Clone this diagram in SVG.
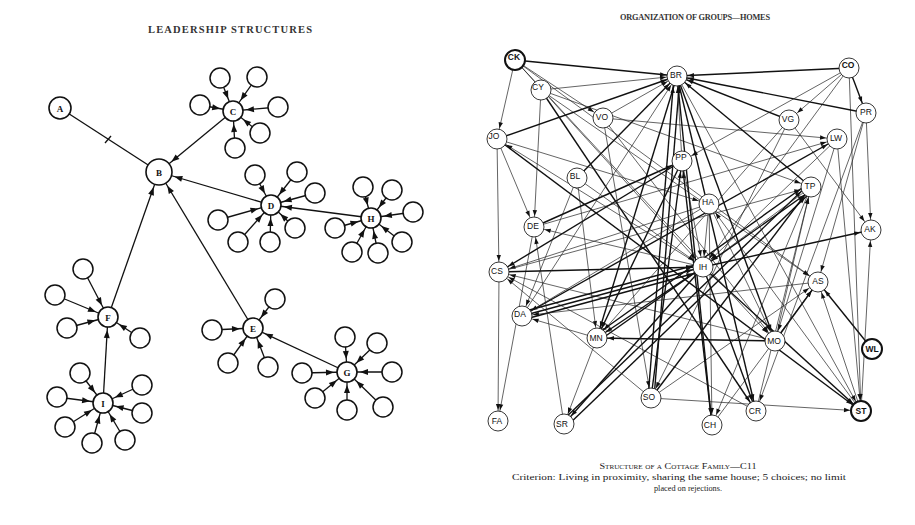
<svg xmlns="http://www.w3.org/2000/svg" width="915" height="525" viewBox="0 0 915 525">
<defs>
<style>
.ttl{font-family:"Liberation Serif",serif;font-weight:bold;fill:#333}
.cap{font-family:"Liberation Serif",serif;fill:#222;font-size:8.5px}
.ll{font-family:"Liberation Serif",serif;font-weight:bold;font-size:9px;fill:#111;text-anchor:middle}
.rl{font-family:"Liberation Sans",sans-serif;font-size:8.5px;fill:#111;text-anchor:middle}
.sat{fill:#fff;stroke:#111;stroke-width:1.5}
.cen{fill:#fff;stroke:#111;stroke-width:1.6}
.rn{fill:#fff;stroke:#222;stroke-width:0.9}
.rb{fill:#fff;stroke:#111;stroke-width:2}
.le{stroke:#111;stroke-width:1.3;fill:none}
.n{stroke:#222;stroke-width:0.7}
.t{stroke:#111;stroke-width:1.4}
</style>
<marker id="arr" viewBox="0 0 8 6" refX="21" refY="3" markerWidth="8" markerHeight="6" markerUnits="userSpaceOnUse" orient="auto" overflow="visible"><path d="M0,0 L8,3 L0,6 z" fill="#111"/></marker>
<marker id="arrB" viewBox="0 0 8 6" refX="24" refY="3" markerWidth="8" markerHeight="6" markerUnits="userSpaceOnUse" orient="auto" overflow="visible"><path d="M0,0 L8,3 L0,6 z" fill="#111"/></marker>
<marker id="ar" viewBox="0 0 6 4.4" refX="17" refY="2.2" markerWidth="6" markerHeight="4.4" markerUnits="userSpaceOnUse" orient="auto" overflow="visible"><path d="M0,0 L6,2.2 L0,4.4 z" fill="#111"/></marker>
</defs>
<rect width="915" height="525" fill="#fff"/>
<text class="ttl" x="230" y="33" font-size="10.5" text-anchor="middle" textLength="164" lengthAdjust="spacing">LEADERSHIP STRUCTURES</text>
<text class="ttl" x="695" y="20" font-size="8.3" text-anchor="middle" textLength="150" lengthAdjust="spacing">ORGANIZATION OF GROUPS—HOMES</text>

<g id="left-connectors">
<line class="le" x1="60" y1="108" x2="159" y2="172"/>
<line class="le" x1="105" y1="143" x2="111" y2="136"/>
<line class="le" x1="233" y1="111" x2="159" y2="172" marker-end="url(#arrB)"/>
<line class="le" x1="271" y1="205" x2="159" y2="172" marker-end="url(#arrB)"/>
<line class="le" x1="108" y1="317" x2="159" y2="172" marker-end="url(#arrB)"/>
<line class="le" x1="253" y1="328" x2="159" y2="172" marker-end="url(#arrB)"/>
<line class="le" x1="371" y1="218" x2="271" y2="205" marker-end="url(#arr)"/>
<line class="le" x1="103" y1="403" x2="108" y2="317" marker-end="url(#arr)"/>
<line class="le" x1="347" y1="372" x2="253" y2="328" marker-end="url(#arr)"/>
<line class="le" x1="220" y1="78" x2="233" y2="111" marker-end="url(#arr)"/>
<line class="le" x1="257" y1="77" x2="233" y2="111" marker-end="url(#arr)"/>
<line class="le" x1="200" y1="105" x2="233" y2="111" marker-end="url(#arr)"/>
<line class="le" x1="278" y1="107" x2="233" y2="111" marker-end="url(#arr)"/>
<line class="le" x1="260" y1="133" x2="233" y2="111" marker-end="url(#arr)"/>
<line class="le" x1="235" y1="148" x2="233" y2="111" marker-end="url(#arr)"/>
<line class="le" x1="255" y1="175" x2="271" y2="205" marker-end="url(#arr)"/>
<line class="le" x1="297" y1="172" x2="271" y2="205" marker-end="url(#arr)"/>
<line class="le" x1="315" y1="193" x2="271" y2="205" marker-end="url(#arr)"/>
<line class="le" x1="218" y1="220" x2="271" y2="205" marker-end="url(#arr)"/>
<line class="le" x1="238" y1="242" x2="271" y2="205" marker-end="url(#arr)"/>
<line class="le" x1="270" y1="242" x2="271" y2="205" marker-end="url(#arr)"/>
<line class="le" x1="295" y1="228" x2="271" y2="205" marker-end="url(#arr)"/>
<line class="le" x1="363" y1="187" x2="371" y2="218" marker-end="url(#arr)"/>
<line class="le" x1="392" y1="190" x2="371" y2="218" marker-end="url(#arr)"/>
<line class="le" x1="413" y1="212" x2="371" y2="218" marker-end="url(#arr)"/>
<line class="le" x1="335" y1="228" x2="371" y2="218" marker-end="url(#arr)"/>
<line class="le" x1="352" y1="252" x2="371" y2="218" marker-end="url(#arr)"/>
<line class="le" x1="378" y1="253" x2="371" y2="218" marker-end="url(#arr)"/>
<line class="le" x1="402" y1="242" x2="371" y2="218" marker-end="url(#arr)"/>
<line class="le" x1="83" y1="269" x2="108" y2="317" marker-end="url(#arr)"/>
<line class="le" x1="55" y1="295" x2="108" y2="317" marker-end="url(#arr)"/>
<line class="le" x1="67" y1="328" x2="108" y2="317" marker-end="url(#arr)"/>
<line class="le" x1="140" y1="338" x2="108" y2="317" marker-end="url(#arr)"/>
<line class="le" x1="80" y1="373" x2="103" y2="403" marker-end="url(#arr)"/>
<line class="le" x1="57" y1="397" x2="103" y2="403" marker-end="url(#arr)"/>
<line class="le" x1="65" y1="427" x2="103" y2="403" marker-end="url(#arr)"/>
<line class="le" x1="92" y1="443" x2="103" y2="403" marker-end="url(#arr)"/>
<line class="le" x1="125" y1="440" x2="103" y2="403" marker-end="url(#arr)"/>
<line class="le" x1="142" y1="413" x2="103" y2="403" marker-end="url(#arr)"/>
<line class="le" x1="142" y1="385" x2="103" y2="403" marker-end="url(#arr)"/>
<line class="le" x1="212" y1="330" x2="253" y2="328" marker-end="url(#arr)"/>
<line class="le" x1="228" y1="363" x2="253" y2="328" marker-end="url(#arr)"/>
<line class="le" x1="268" y1="367" x2="253" y2="328" marker-end="url(#arr)"/>
<line class="le" x1="275" y1="299" x2="253" y2="328" marker-end="url(#arr)"/>
<line class="le" x1="345" y1="337" x2="347" y2="372" marker-end="url(#arr)"/>
<line class="le" x1="377" y1="343" x2="347" y2="372" marker-end="url(#arr)"/>
<line class="le" x1="392" y1="372" x2="347" y2="372" marker-end="url(#arr)"/>
<line class="le" x1="302" y1="373" x2="347" y2="372" marker-end="url(#arr)"/>
<line class="le" x1="315" y1="398" x2="347" y2="372" marker-end="url(#arr)"/>
<line class="le" x1="347" y1="410" x2="347" y2="372" marker-end="url(#arr)"/>
<line class="le" x1="383" y1="407" x2="347" y2="372" marker-end="url(#arr)"/>
</g>

<g id="left-satellites">
<circle class="sat" cx="220" cy="78" r="10"/><circle class="sat" cx="257" cy="77" r="10"/><circle class="sat" cx="200" cy="105" r="10"/><circle class="sat" cx="278" cy="107" r="10"/><circle class="sat" cx="260" cy="133" r="10"/><circle class="sat" cx="235" cy="148" r="10"/>
<circle class="sat" cx="255" cy="175" r="10"/><circle class="sat" cx="297" cy="172" r="10"/><circle class="sat" cx="315" cy="193" r="10" stroke-width="2.2"/><circle class="sat" cx="218" cy="220" r="10"/><circle class="sat" cx="238" cy="242" r="10"/><circle class="sat" cx="270" cy="242" r="10"/><circle class="sat" cx="295" cy="228" r="10" stroke-width="2.4"/>
<circle class="sat" cx="363" cy="187" r="10" stroke-width="2.2"/><circle class="sat" cx="392" cy="190" r="10"/><circle class="sat" cx="413" cy="212" r="10"/><circle class="sat" cx="335" cy="228" r="10"/><circle class="sat" cx="352" cy="252" r="10"/><circle class="sat" cx="378" cy="253" r="10"/><circle class="sat" cx="402" cy="242" r="10"/>
<circle class="sat" cx="83" cy="269" r="10"/><circle class="sat" cx="55" cy="295" r="10"/><circle class="sat" cx="67" cy="328" r="10"/><circle class="sat" cx="140" cy="338" r="10"/>
<circle class="sat" cx="80" cy="373" r="10" stroke-width="2"/><circle class="sat" cx="57" cy="397" r="10"/><circle class="sat" cx="65" cy="427" r="10"/><circle class="sat" cx="92" cy="443" r="10"/><circle class="sat" cx="125" cy="440" r="10"/><circle class="sat" cx="142" cy="413" r="10"/><circle class="sat" cx="142" cy="385" r="10"/>
<circle class="sat" cx="212" cy="330" r="10"/><circle class="sat" cx="228" cy="363" r="10"/><circle class="sat" cx="268" cy="367" r="10"/><circle class="sat" cx="275" cy="299" r="10"/>
<circle class="sat" cx="345" cy="337" r="10"/><circle class="sat" cx="377" cy="343" r="10" stroke-width="2"/><circle class="sat" cx="392" cy="372" r="10"/><circle class="sat" cx="302" cy="373" r="10"/><circle class="sat" cx="315" cy="398" r="10"/><circle class="sat" cx="347" cy="410" r="10" stroke-width="2"/><circle class="sat" cx="383" cy="407" r="10" stroke-width="2"/>
</g>
<g id="node-A"><circle class="cen" cx="60" cy="108" r="11" stroke-width="3.5"/><text class="ll" x="60" y="111.5">A</text></g>
<g id="node-B"><circle class="cen" cx="159" cy="172" r="13" stroke-width="2.2"/><text class="ll" x="159" y="175.5">B</text></g>
<g id="node-C"><circle class="cen" cx="233" cy="111" r="10"/><text class="ll" x="233" y="114.5">C</text></g>
<g id="node-D"><circle class="cen" cx="271" cy="205" r="10"/><text class="ll" x="271" y="208.5">D</text></g>
<g id="node-H"><circle class="cen" cx="371" cy="218" r="10"/><text class="ll" x="371" y="221.5">H</text></g>
<g id="node-F"><circle class="cen" cx="108" cy="317" r="10"/><text class="ll" x="108" y="320.5">F</text></g>
<g id="node-I"><circle class="cen" cx="103" cy="403" r="10"/><text class="ll" x="103" y="406.5">I</text></g>
<g id="node-E"><circle class="cen" cx="253" cy="328" r="10"/><text class="ll" x="253" y="331.5">E</text></g>
<g id="node-G"><circle class="cen" cx="347" cy="372" r="10"/><text class="ll" x="347" y="375.5">G</text></g>

<g id="right-connectors">
<line class="t" x1="515" y1="60" x2="677" y2="76" marker-end="url(#ar)"/>
<line class="n" x1="515" y1="60" x2="497" y2="139" marker-end="url(#ar)"/>
<line class="n" x1="515" y1="60" x2="603" y2="118" marker-end="url(#ar)"/>
<line class="n" x1="515" y1="60" x2="703" y2="267" marker-end="url(#ar)"/>
<line class="n" x1="515" y1="60" x2="818" y2="282" marker-end="url(#ar)"/>
<line class="n" x1="541" y1="90" x2="677" y2="76" marker-end="url(#ar)"/>
<line class="n" x1="541" y1="90" x2="534" y2="227" marker-end="url(#ar)"/>
<line class="t" x1="541" y1="90" x2="756" y2="411" marker-end="url(#ar)"/>
<line class="n" x1="541" y1="90" x2="811" y2="187" marker-end="url(#ar)"/>
<line class="n" x1="541" y1="90" x2="818" y2="282" marker-end="url(#ar)"/>
<line class="n" x1="603" y1="118" x2="837" y2="139" marker-end="url(#ar)"/>
<line class="n" x1="603" y1="118" x2="677" y2="76" marker-end="url(#ar)"/>
<line class="n" x1="603" y1="118" x2="775" y2="341" marker-end="url(#ar)"/>
<line class="t" x1="497" y1="139" x2="677" y2="76" marker-end="url(#ar)"/>
<line class="n" x1="497" y1="139" x2="534" y2="227" marker-end="url(#ar)"/>
<line class="n" x1="497" y1="139" x2="499" y2="272" marker-end="url(#ar)"/>
<line class="t" x1="497" y1="139" x2="861" y2="411" marker-end="url(#ar)"/>
<line class="n" x1="703" y1="267" x2="497" y2="139" marker-end="url(#ar)"/>
<line class="t" x1="577" y1="178" x2="677" y2="76" marker-end="url(#ar)"/>
<line class="n" x1="577" y1="178" x2="522" y2="316" marker-end="url(#ar)"/>
<line class="n" x1="577" y1="178" x2="597" y2="338" marker-end="url(#ar)"/>
<line class="t" x1="534" y1="227" x2="682" y2="161" marker-end="url(#ar)"/>
<line class="n" x1="534" y1="227" x2="837" y2="139" marker-end="url(#ar)"/>
<line class="n" x1="534" y1="227" x2="498" y2="421" marker-end="url(#ar)"/>
<line class="t" x1="499" y1="272" x2="703" y2="267" marker-end="url(#ar)"/>
<line class="t" x1="682" y1="161" x2="499" y2="272" marker-end="url(#ar)"/>
<line class="n" x1="499" y1="272" x2="498" y2="421" marker-end="url(#ar)"/>
<line class="n" x1="756" y1="411" x2="499" y2="272" marker-end="url(#ar)"/>
<line class="n" x1="775" y1="341" x2="499" y2="272" marker-end="url(#ar)"/>
<line class="t" x1="522" y1="312" x2="703" y2="263" marker-end="url(#ar)"/>
<line class="t" x1="522" y1="316" x2="703" y2="267" marker-end="url(#ar)"/>
<line class="t" x1="522" y1="320" x2="703" y2="271" marker-end="url(#ar)"/>
<line class="t" x1="522" y1="316" x2="837" y2="139" marker-end="url(#ar)"/>
<line class="n" x1="597" y1="338" x2="522" y2="316" marker-end="url(#ar)"/>
<line class="t" x1="677" y1="76" x2="597" y2="338" marker-end="url(#ar)"/>
<line class="t" x1="682" y1="161" x2="597" y2="338" marker-end="url(#ar)"/>
<line class="t" x1="775" y1="341" x2="597" y2="338" marker-end="url(#ar)"/>
<line class="n" x1="597" y1="338" x2="564" y2="424" marker-end="url(#ar)"/>
<line class="t" x1="648" y1="398" x2="674" y2="76" marker-end="url(#ar)"/>
<line class="t" x1="654" y1="398" x2="680" y2="76" marker-end="url(#ar)"/>
<line class="t" x1="651" y1="398" x2="811" y2="187" marker-end="url(#ar)"/>
<line class="n" x1="651" y1="398" x2="818" y2="282" marker-end="url(#ar)"/>
<line class="n" x1="651" y1="398" x2="861" y2="411" marker-end="url(#ar)"/>
<line class="t" x1="651" y1="398" x2="682" y2="161" marker-end="url(#ar)"/>
<line class="t" x1="562" y1="421" x2="809" y2="184" marker-end="url(#ar)"/>
<line class="t" x1="566" y1="427" x2="813" y2="190" marker-end="url(#ar)"/>
<line class="n" x1="709" y1="204" x2="712" y2="425" marker-end="url(#ar)"/>
<line class="n" x1="712" y1="425" x2="818" y2="282" marker-end="url(#ar)"/>
<line class="t" x1="712" y1="425" x2="682" y2="161" marker-end="url(#ar)"/>
<line class="t" x1="703" y1="267" x2="756" y2="411" marker-end="url(#ar)"/>
<line class="n" x1="861" y1="411" x2="818" y2="282" marker-end="url(#ar)"/>
<line class="t" x1="872" y1="349" x2="818" y2="282" marker-end="url(#ar)"/>
<line class="n" x1="861" y1="411" x2="871" y2="230" marker-end="url(#ar)"/>
<line class="n" x1="849" y1="68" x2="861" y2="411" marker-end="url(#ar)"/>
<line class="t" x1="703" y1="267" x2="861" y2="411" marker-end="url(#ar)"/>
<line class="n" x1="866" y1="113" x2="871" y2="230" marker-end="url(#ar)"/>
<line class="t" x1="703" y1="267" x2="871" y2="230" marker-end="url(#ar)"/>
<line class="n" x1="789" y1="120" x2="871" y2="230" marker-end="url(#ar)"/>
<line class="t" x1="775" y1="341" x2="818" y2="282" marker-end="url(#ar)"/>
<line class="t" x1="677" y1="76" x2="775" y2="341" marker-end="url(#ar)"/>
<line class="t" x1="849" y1="68" x2="677" y2="76" marker-end="url(#ar)"/>
<line class="t" x1="866" y1="113" x2="677" y2="76" marker-end="url(#ar)"/>
<line class="n" x1="849" y1="68" x2="789" y2="120" marker-end="url(#ar)"/>
<line class="t" x1="849" y1="68" x2="866" y2="113" marker-end="url(#ar)"/>
<line class="n" x1="849" y1="68" x2="682" y2="161" marker-end="url(#ar)"/>
<line class="n" x1="866" y1="113" x2="818" y2="282" marker-end="url(#ar)"/>
<line class="t" x1="789" y1="120" x2="677" y2="76" marker-end="url(#ar)"/>
<line class="n" x1="789" y1="120" x2="651" y2="398" marker-end="url(#ar)"/>
<line class="n" x1="789" y1="120" x2="597" y2="338" marker-end="url(#ar)"/>
<line class="n" x1="837" y1="139" x2="703" y2="267" marker-end="url(#ar)"/>
<line class="n" x1="837" y1="139" x2="775" y2="341" marker-end="url(#ar)"/>
<line class="n" x1="837" y1="139" x2="861" y2="411" marker-end="url(#ar)"/>
<line class="t" x1="811" y1="187" x2="677" y2="76" marker-end="url(#ar)"/>
<line class="t" x1="597" y1="334" x2="809" y2="183" marker-end="url(#ar)"/>
<line class="t" x1="600" y1="340" x2="813" y2="189" marker-end="url(#ar)"/>
<line class="n" x1="709" y1="204" x2="522" y2="316" marker-end="url(#ar)"/>
<line class="n" x1="709" y1="204" x2="703" y2="267" marker-end="url(#ar)"/>
<line class="n" x1="709" y1="204" x2="499" y2="272" marker-end="url(#ar)"/>
<line class="n" x1="682" y1="161" x2="677" y2="76" marker-end="url(#ar)"/>
<line class="n" x1="682" y1="161" x2="703" y2="267" marker-end="url(#ar)"/>
<line class="t" x1="677" y1="76" x2="756" y2="411" marker-end="url(#ar)"/>
<line class="n" x1="677" y1="76" x2="861" y2="411" marker-end="url(#ar)"/>
<line class="t" x1="677" y1="76" x2="712" y2="425" marker-end="url(#ar)"/>
<line class="t" x1="703" y1="267" x2="564" y2="424" marker-end="url(#ar)"/>
<line class="t" x1="703" y1="267" x2="597" y2="338" marker-end="url(#ar)"/>
<line class="n" x1="703" y1="267" x2="534" y2="227" marker-end="url(#ar)"/>
<line class="n" x1="811" y1="187" x2="712" y2="425" marker-end="url(#ar)"/>
<line class="n" x1="811" y1="187" x2="703" y2="267" marker-end="url(#ar)"/>
<line class="n" x1="818" y1="282" x2="522" y2="316" marker-end="url(#ar)"/>
<line class="n" x1="499" y1="272" x2="811" y2="187" marker-end="url(#ar)"/>
<line class="n" x1="564" y1="424" x2="534" y2="227" marker-end="url(#ar)"/>
<line class="n" x1="651" y1="398" x2="499" y2="272" marker-end="url(#ar)"/>
<line class="n" x1="756" y1="411" x2="811" y2="187" marker-end="url(#ar)"/>
<line class="n" x1="577" y1="178" x2="703" y2="267" marker-end="url(#ar)"/>
<line class="n" x1="603" y1="118" x2="651" y2="398" marker-end="url(#ar)"/>
<line class="n" x1="709" y1="204" x2="775" y2="341" marker-end="url(#ar)"/>
<line class="n" x1="522" y1="316" x2="677" y2="76" marker-end="url(#ar)"/>
<line class="n" x1="497" y1="139" x2="709" y2="204" marker-end="url(#ar)"/>
<line class="n" x1="515" y1="60" x2="775" y2="341" marker-end="url(#ar)"/>
<line class="n" x1="775" y1="341" x2="811" y2="187" marker-end="url(#ar)"/>
<line class="n" x1="861" y1="411" x2="709" y2="204" marker-end="url(#ar)"/>
<line class="n" x1="866" y1="113" x2="756" y2="411" marker-end="url(#ar)"/>
<line class="n" x1="849" y1="68" x2="703" y2="267" marker-end="url(#ar)"/>
</g>

<g id="node-CK"><circle class="rb" cx="515" cy="60" r="10"/><text class="rl" x="514" y="60" font-weight="bold">CK</text></g>
<g id="node-CY"><circle class="rn" cx="541" cy="90" r="10"/><text class="rl" x="538" y="90">CY</text></g>
<g id="node-BR"><circle class="rn" cx="677" cy="76" r="10"/><text class="rl" x="676" y="78">BR</text></g>
<g id="node-CO"><circle class="rn" cx="849" cy="68" r="10" stroke-width="1.4"/><text class="rl" x="848" y="68" font-weight="bold">CO</text></g>
<g id="node-PR"><circle class="rn" cx="866" cy="113" r="10"/><text class="rl" x="866" y="115">PR</text></g>
<g id="node-VG"><circle class="rn" cx="789" cy="120" r="10"/><text class="rl" x="788" y="122">VG</text></g>
<g id="node-VO"><circle class="rn" cx="603" cy="118" r="10"/><text class="rl" x="602" y="120" font-size="6.5">VO</text></g>
<g id="node-LW"><circle class="rn" cx="837" cy="139" r="10"/><text class="rl" x="836" y="141">LW</text></g>
<g id="node-JO"><circle class="rn" cx="497" cy="139" r="10"/><text class="rl" x="494" y="139">JO</text></g>
<g id="node-PP"><circle class="rn" cx="682" cy="161" r="10"/><text class="rl" x="681" y="160">PP</text></g>
<g id="node-BL"><circle class="rn" cx="577" cy="178" r="10"/><text class="rl" x="575" y="179">BL</text></g>
<g id="node-TP"><circle class="rn" cx="811" cy="187" r="10"/><text class="rl" x="810" y="189">TP</text></g>
<g id="node-HA"><circle class="rn" cx="709" cy="204" r="10"/><text class="rl" x="708" y="205">HA</text></g>
<g id="node-DE"><circle class="rn" cx="534" cy="227" r="10"/><text class="rl" x="533" y="229">DE</text></g>
<g id="node-AK"><circle class="rn" cx="871" cy="230" r="10"/><text class="rl" x="870" y="232">AK</text></g>
<g id="node-CS"><circle class="rn" cx="499" cy="272" r="10"/><text class="rl" x="497" y="274">CS</text></g>
<g id="node-IH"><circle class="rn" cx="703" cy="267" r="10"/><text class="rl" x="703" y="270">IH</text></g>
<g id="node-AS"><circle class="rn" cx="818" cy="282" r="10"/><text class="rl" x="818" y="284">AS</text></g>
<g id="node-DA"><circle class="rn" cx="522" cy="316" r="10"/><text class="rl" x="520" y="317">DA</text></g>
<g id="node-MN"><circle class="rn" cx="597" cy="338" r="10"/><text class="rl" x="596" y="341">MN</text></g>
<g id="node-MO"><circle class="rn" cx="775" cy="341" r="10"/><text class="rl" x="774" y="344">MO</text></g>
<g id="node-WL"><circle class="rb" cx="872" cy="349" r="10"/><text class="rl" x="872" y="352" font-weight="bold">WL</text></g>
<g id="node-SO"><circle class="rn" cx="651" cy="398" r="10"/><text class="rl" x="649" y="400">SO</text></g>
<g id="node-FA"><circle class="rn" cx="498" cy="421" r="10"/><text class="rl" x="497" y="424">FA</text></g>
<g id="node-SR"><circle class="rn" cx="564" cy="424" r="10"/><text class="rl" x="562" y="427">SR</text></g>
<g id="node-CH"><circle class="rn" cx="712" cy="425" r="10"/><text class="rl" x="710" y="428">CH</text></g>
<g id="node-CR"><circle class="rn" cx="756" cy="411" r="10"/><text class="rl" x="755" y="414">CR</text></g>
<g id="node-ST"><circle class="rb" cx="861" cy="411" r="10"/><text class="rl" x="861" y="414" font-weight="bold">ST</text></g>

<text class="cap" x="678" y="469" text-anchor="middle" style="font-variant:small-caps" textLength="157" lengthAdjust="spacingAndGlyphs">Structure of a Cottage Family—C11</text>
<text class="cap" x="679" y="480" text-anchor="middle" textLength="334" lengthAdjust="spacingAndGlyphs">Criterion:  Living in proximity, sharing the same house; 5 choices; no limit</text>
<text class="cap" x="688" y="491" text-anchor="middle" textLength="68" lengthAdjust="spacingAndGlyphs">placed on rejections.</text>
</svg>
